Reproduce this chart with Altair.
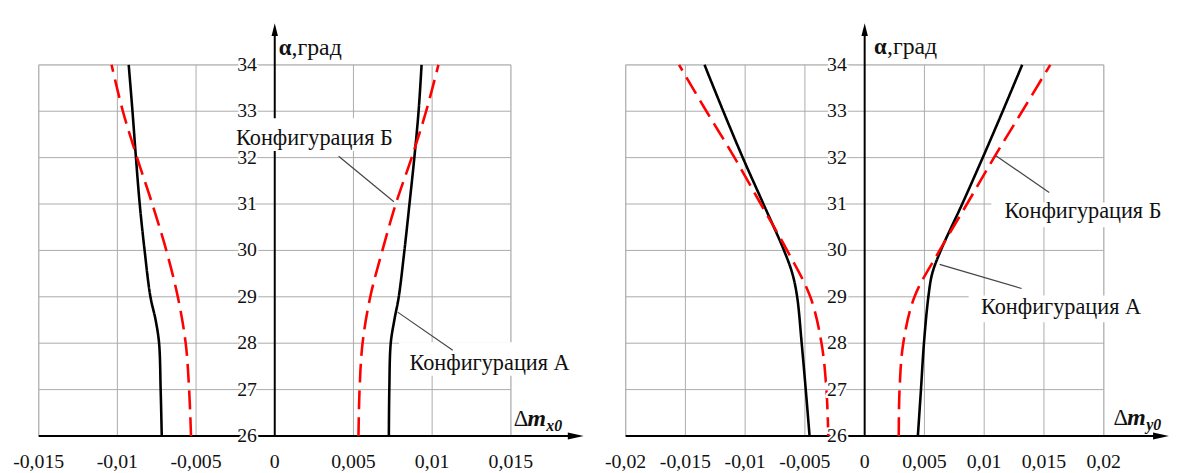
import altair as alt
import pandas as pd

# ---------------- data ----------------
# left panel: Δm_x0 vs α
alpha_xA = [26, 27, 28, 28.5, 29, 30, 31, 32, 33, 34]
mx0_A_neg = [-0.00718, -0.00725, -0.00735, -0.00757, -0.0079, -0.00827, -0.00858, -0.00882, -0.00904, -0.00928]
mx0_A_pos = [0.00725, 0.00728, 0.00737, 0.0076, 0.00788, 0.00824, 0.00856, 0.00887, 0.00914, 0.00933]
alpha_xB = [26, 27, 28, 29, 30, 31, 32, 33, 34]
mx0_B_neg = [-0.00532, -0.00544, -0.00566, -0.00616, -0.00689, -0.00778, -0.00875, -0.00965, -0.01037]
mx0_B_pos = [0.00532, 0.00539, 0.00558, 0.00607, 0.00684, 0.00769, 0.0087, 0.00962, 0.0104]

# right panel: Δm_y0 vs α
alpha_yA = [26, 27, 28, 29, 29.5, 30, 31, 32, 33, 34]
my0_A_neg = [-0.00461, -0.00493, -0.00527, -0.00565, -0.00605, -0.00675, -0.00847, -0.0102, -0.01183, -0.0134]
my0_A_pos = [0.00445, 0.00471, 0.00496, 0.00533, 0.00565, 0.00637, 0.00816, 0.00988, 0.01155, 0.01318]
alpha_yB = [26, 27, 28, 29, 30, 31, 32, 33, 34]
my0_B_neg = [-0.00304, -0.0032, -0.00361, -0.00455, -0.00649, -0.00869, -0.01089, -0.01324, -0.01553]
my0_B_pos = [0.00285, 0.00292, 0.00323, 0.00417, 0.00627, 0.00856, 0.01082, 0.01318, 0.01553]

alpha_ticks = [26, 27, 28, 29, 30, 31, 32, 33, 34]
alpha_labels = ["26", "27", "28", "29", "30", "31", "32", "33", "34"]
x_ticks_left = [-0.015, -0.01, -0.005, 0, 0.005, 0.01, 0.015]
x_labels_left = ["-0,015", "-0,01", "-0,005", "0", "0,005", "0,01", "0,015"]
x_ticks_right = [-0.02, -0.015, -0.01, -0.005, 0, 0.005, 0.01, 0.015, 0.02]
x_labels_right = ["-0,02", "-0,015", "-0,01", "-0,005", "0", "0,005", "0,01", "0,015", "0,02"]

cfg_names = ["Конфигурация А", "Конфигурация Б"]

# annotation placement (data coords) per panel
left_notes = {
    "text_x": [0.00856, -0.00246], "text_y": [27.58, 32.42],
    "lead_x": [0.00781, 0.00406], "lead_y": [28.67, 32.03],
    "lead_x2": [0.01131, 0.00757], "lead_y2": [27.85, 31.05],
    "box_x": [0.0079, -0.0027], "box_x2": [0.0195, 0.0078],
    "box_y": [27.3, 32.14], "box_y2": [28.02, 32.85],
    "title_x": 0.00025, "title_y": 34.36,
    "sym_x": 0.01518, "sym_y": 26.37, "sub": "x0",
    "arrow_x": 0.01862, "axis_top": 34.62,
}
right_notes = {
    "text_x": [0.00973, 0.01171], "text_y": [28.77, 30.84],
    "lead_x": [0.00627, 0.01098], "lead_y": [29.70, 32.04],
    "lead_x2": [0.01313, 0.01544], "lead_y2": [29.18, 31.25],
    "box_x": [0.0087, 0.0106], "box_x2": [0.0242, 0.0256],
    "box_y": [28.45, 30.5], "box_y2": [29.03, 31.03],
    "title_x": 0.00079, "title_y": 34.38,
    "sym_x": 0.02082, "sym_y": 26.38, "sub": "y0",
    "arrow_x": 0.02413, "axis_top": 34.62,
}

FONT = "'Liberation Serif', 'Times New Roman', serif"
GRID = "#ababab"
TXT = "#111111"


def series_frame(alpha_a, a_neg, a_pos, alpha_b, b_neg, b_pos):
    rows = []
    for side, vals in (("neg", a_neg), ("pos", a_pos)):
        for a, v in zip(alpha_a, vals):
            rows.append({"alpha": a, "m": v, "cfg": "A", "grp": "A" + side})
    for side, vals in (("neg", b_neg), ("pos", b_pos)):
        for a, v in zip(alpha_b, vals):
            rows.append({"alpha": a, "m": v, "cfg": "B", "grp": "B" + side})
    return pd.DataFrame(rows)


def panel(width, xdom, xticks, xlabels, curves, notes):
    xs = alt.Scale(domain=xdom, nice=False, zero=False)
    ys = alt.Scale(domain=[26, 34], nice=False, zero=False)
    X = lambda f: alt.X(f, type="quantitative", scale=xs, axis=None)
    Y = lambda f: alt.Y(f, type="quantitative", scale=ys, axis=None)

    vgrid = pd.DataFrame({"x": [t for t in xticks if t != 0], "y": 26, "y2": 34})
    hgrid = pd.DataFrame({"y": alpha_ticks[1:], "x": xdom[0], "x2": xdom[1]})
    layers = [
        alt.Chart(vgrid).mark_rule(color=GRID, strokeWidth=1).encode(
            x=X("x"), y=Y("y"), y2="y2"),
        alt.Chart(hgrid).mark_rule(color=GRID, strokeWidth=1).encode(
            y=Y("y"), x=X("x"), x2="x2"),
    ]
    # axis lines
    vaxis = pd.DataFrame({"x": [0], "y": [26], "y2": [notes["axis_top"] + 0.03]})
    haxis = pd.DataFrame({"y": [26], "x": [xdom[0]], "x2": [notes["arrow_x"] + 0.0002]})
    layers += [
        alt.Chart(vaxis).mark_rule(color="black", strokeWidth=2).encode(
            x=X("x"), y=Y("y"), y2="y2"),
        alt.Chart(haxis).mark_rule(color="black", strokeWidth=2).encode(
            y=Y("y"), x=X("x"), x2="x2"),
        alt.Chart(pd.DataFrame({"x": [0], "y": [notes["axis_top"]]})).mark_point(
            shape="M0,-2L0.5,0L-0.5,0Z", filled=True, size=169, color="black", opacity=1,
            strokeWidth=0).encode(x=X("x"), y=Y("y")),
        alt.Chart(pd.DataFrame({"x": [notes["arrow_x"]], "y": [26]})).mark_point(
            shape="M2,0L0,-0.45L0,0.45Z", filled=True, size=256, color="black", opacity=1,
            strokeWidth=0).encode(x=X("x"), y=Y("y")),
    ]
    # white boxes behind labels
    boxes = pd.DataFrame({"x": notes["box_x"], "x2": notes["box_x2"],
                          "y": notes["box_y"], "y2": notes["box_y2"]})
    layers.append(alt.Chart(boxes).mark_rect(color="white").encode(
        x=X("x"), x2="x2", y=Y("y"), y2="y2"))
    # curves
    layers.append(alt.Chart(curves).mark_line(strokeWidth=2.6, interpolate="catmull-rom").encode(
        x=X("m"), y=Y("alpha"),
        color=alt.Color("cfg:N", scale=alt.Scale(domain=["A", "B"], range=["#000000", "#ff0000"]), legend=None),
        strokeDash=alt.StrokeDash("cfg:N", scale=alt.Scale(domain=["A", "B"], range=[[1, 0], [19, 8]]), legend=None),
        detail="grp:N",
        order=alt.Order("alpha:Q"),
    ))
    # leader lines
    leads = pd.DataFrame({"x": notes["lead_x"], "y": notes["lead_y"],
                          "x2": notes["lead_x2"], "y2": notes["lead_y2"]})
    layers.append(alt.Chart(leads).mark_rule(color="#444444", strokeWidth=1.2).encode(
        x=X("x"), y=Y("y"), x2="x2", y2="y2"))
    # y tick labels with halo
    ylab = pd.DataFrame({"y": alpha_ticks, "t": alpha_labels, "x": 0})
    for halo in (True, False):
        kw = dict(stroke="white", strokeWidth=4) if halo else {}
        layers.append(alt.Chart(ylab).mark_text(
            font=FONT, fontSize=20, align="right", baseline="middle", dx=-18, color=TXT, **kw
        ).encode(x=X("x"), y=Y("y"), text="t:N"))
    # x tick labels
    xlab = pd.DataFrame({"x": xticks, "t": xlabels, "y": 26})
    layers.append(alt.Chart(xlab).mark_text(
        font=FONT, fontSize=20, align="center", baseline="middle", dy=26, color=TXT
    ).encode(x=X("x"), y=Y("y"), text="t:N"))
    # annotations
    ann = pd.DataFrame({"x": notes["text_x"], "y": notes["text_y"], "t": cfg_names})
    layers.append(alt.Chart(ann).mark_text(
        font=FONT, fontSize=22.5, align="left", baseline="middle", color=TXT
    ).encode(x=X("x"), y=Y("y"), text="t:N"))
    # axis titles
    t1 = pd.DataFrame({"x": [notes["title_x"]], "y": [notes["title_y"]]})
    layers.append(alt.Chart(t1).mark_text(
        font=FONT, fontSize=23, fontWeight="bold", align="left", baseline="middle", color=TXT, text="α"
    ).encode(x=X("x"), y=Y("y")))
    layers.append(alt.Chart(t1).mark_text(
        font=FONT, fontSize=24, align="left", baseline="middle", color=TXT, text=",град", dx=13
    ).encode(x=X("x"), y=Y("y")))
    t2 = pd.DataFrame({"x": [notes["sym_x"]], "y": [notes["sym_y"]]})
    layers.append(alt.Chart(t2).mark_text(
        font=FONT, fontSize=23, align="left", baseline="middle", color=TXT, text="Δ"
    ).encode(x=X("x"), y=Y("y")))
    layers.append(alt.Chart(t2).mark_text(
        font=FONT, fontSize=24, fontWeight="bold", fontStyle="italic", align="left",
        baseline="middle", color=TXT, text="m", dx=14
    ).encode(x=X("x"), y=Y("y")))
    layers.append(alt.Chart(t2).mark_text(
        font=FONT, fontSize=16, fontWeight="bold", fontStyle="italic", align="left",
        baseline="middle", color=TXT, text=notes["sub"], dx=33, dy=7
    ).encode(x=X("x"), y=Y("y")))
    return alt.layer(*layers).properties(width=width, height=375)


left = panel(477, [-0.015, 0.015], x_ticks_left, x_labels_left,
             series_frame(alpha_xA, mx0_A_neg, mx0_A_pos, alpha_xB, mx0_B_neg, mx0_B_pos), left_notes)
right = panel(483, [-0.02, 0.02], x_ticks_right, x_labels_right,
              series_frame(alpha_yA, my0_A_neg, my0_A_pos, alpha_yB, my0_B_neg, my0_B_pos), right_notes)

chart = alt.hconcat(left, right, spacing=116, bounds="flush").properties(
    padding={"left": 4, "top": 12, "right": 0, "bottom": 0}
).configure_view(stroke=None).configure(background="white")

chart.save("out.html", embed_options={"renderer": "svg", "actions": False})
